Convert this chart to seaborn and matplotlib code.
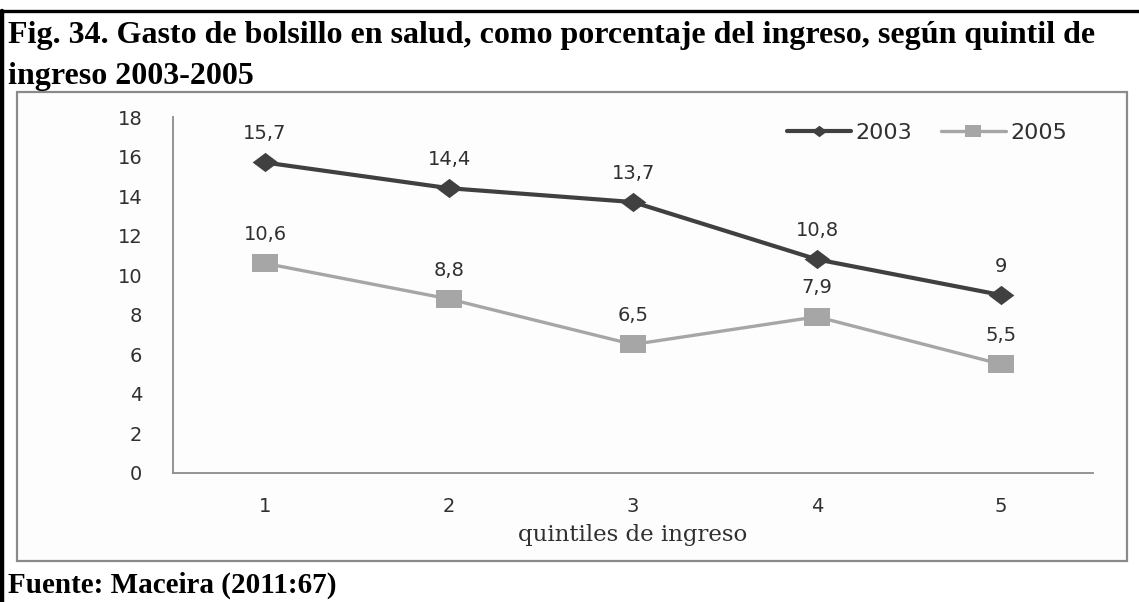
import matplotlib
matplotlib.use("Agg")
import matplotlib.pyplot as plt
from matplotlib.lines import Line2D
from matplotlib.patches import Rectangle
import seaborn as sns
import pandas as pd

# Data: out-of-pocket health spending as % of income, by income quintile
quintiles = [1, 2, 3, 4, 5]
gasto_2003 = [15.7, 14.4, 13.7, 10.8, 9.0]
gasto_2005 = [10.6, 8.8, 6.5, 7.9, 5.5]
years = ["2003", "2005"]
y_ticks = [0, 2, 4, 6, 8, 10, 12, 14, 16, 18]

title_lines = [
    "Fig. 34. Gasto de bolsillo en salud, como porcentaje del ingreso, según quintil de",
    "ingreso 2003-2005",
]
x_label = "quintiles de ingreso"
source = "Fuente: Maceira (2011:67)"

df = pd.DataFrame({
    "quintil": quintiles * 2,
    "gasto": gasto_2003 + gasto_2005,
    "anio": [years[0]] * 5 + [years[1]] * 5,
})

sns.set_theme(style="white")
plt.rcParams["font.family"] = ["DejaVu Sans"]

W, H = 1139, 602
fig = plt.figure(figsize=(W / 100, H / 100), dpi=100)
fig.patch.set_facecolor("white")

# outer frame: black top rule and left rule
fig.add_artist(Line2D([0, 1], [1 - 11 / H, 1 - 11 / H], color="black", lw=2.4,
                      transform=fig.transFigure))
fig.add_artist(Line2D([2 / W, 2 / W], [0, 1 - 11 / H], color="black", lw=3.2,
                      transform=fig.transFigure))

# chart panel
fig.add_artist(Rectangle((17 / W, 1 - 561 / H), (1127 - 17) / W, (561 - 92) / H,
                         transform=fig.transFigure, facecolor="#fdfdfd",
                         edgecolor="#8a8a8a", lw=1.6, zorder=0))

ax = fig.add_axes([173 / W, 1 - 473 / H, (1093 - 173) / W, (473 - 117) / H])
ax.set_facecolor("none")

dark = "#404040"
light = "#a6a6a6"
diamond = [(0, 0.75), (1, 0), (0, -0.75), (-1, 0), (0, 0.75)]
rect = [(-1, -0.72), (1, -0.72), (1, 0.72), (-1, 0.72), (-1, -0.72)]

styles = {
    "2003": dict(color=dark, marker=diamond, markersize=18.5, linewidth=3.0),
    "2005": dict(color=light, marker=rect, markersize=18.5, linewidth=2.4),
}
for yr in years:
    sub = df[df["anio"] == yr]
    sns.lineplot(data=sub, x="quintil", y="gasto", ax=ax, legend=False,
                 markeredgewidth=0, **styles[yr])
    for xv, yv in zip(sub["quintil"], sub["gasto"]):
        ax.annotate(f"{yv:g}".replace(".", ","), (xv, yv),
                    xytext=(0, 14), textcoords="offset points",
                    ha="center", va="bottom", fontsize=14, color="#303030")

ax.set_xlim(0.5, 5.5)
ax.set_ylim(0, 18)
ax.set_xticks(quintiles)
ax.set_xticklabels([str(q) for q in quintiles])
ax.set_yticks(y_ticks)
ax.tick_params(axis="both", length=0, labelsize=14, colors="#303030")
ax.tick_params(axis="y", pad=22)
ax.tick_params(axis="x", pad=17)
for side in ["top", "right"]:
    ax.spines[side].set_visible(False)
for side in ["left", "bottom"]:
    ax.spines[side].set_color("#8c8c8c")
    ax.spines[side].set_linewidth(1.3)

ax.set_xlabel(x_label, family="DejaVu Serif", fontsize=16.5, color="#303030",
              labelpad=6)
ax.set_ylabel("")

handles = [
    Line2D([], [], color=dark, lw=3.0, marker=diamond, markersize=11,
           markeredgewidth=0),
    Line2D([], [], color=light, lw=2.4, marker=rect, markersize=12,
           markeredgewidth=0),
]
ax.legend(handles, years, loc="center right",
          bbox_to_anchor=((1067 - 173) / 920, 1 - 16 / 356), ncol=2,
          frameon=False, borderpad=0, borderaxespad=0,
          fontsize=16, handlelength=2.9, handletextpad=0.2, columnspacing=1.3,
          labelcolor="#303030")

for i, line in enumerate(title_lines):
    fig.text(8 / W, 1 - (43 + 41 * i) / H, line, family="Liberation Serif",
             fontweight="bold", fontsize=23, va="baseline", ha="left",
             color="black")
fig.text(8 / W, 1 - 593 / H, source, family="Liberation Serif",
         fontweight="bold", fontsize=21, va="baseline", ha="left", color="black")

fig.savefig("out.png", dpi=100, facecolor="white")
